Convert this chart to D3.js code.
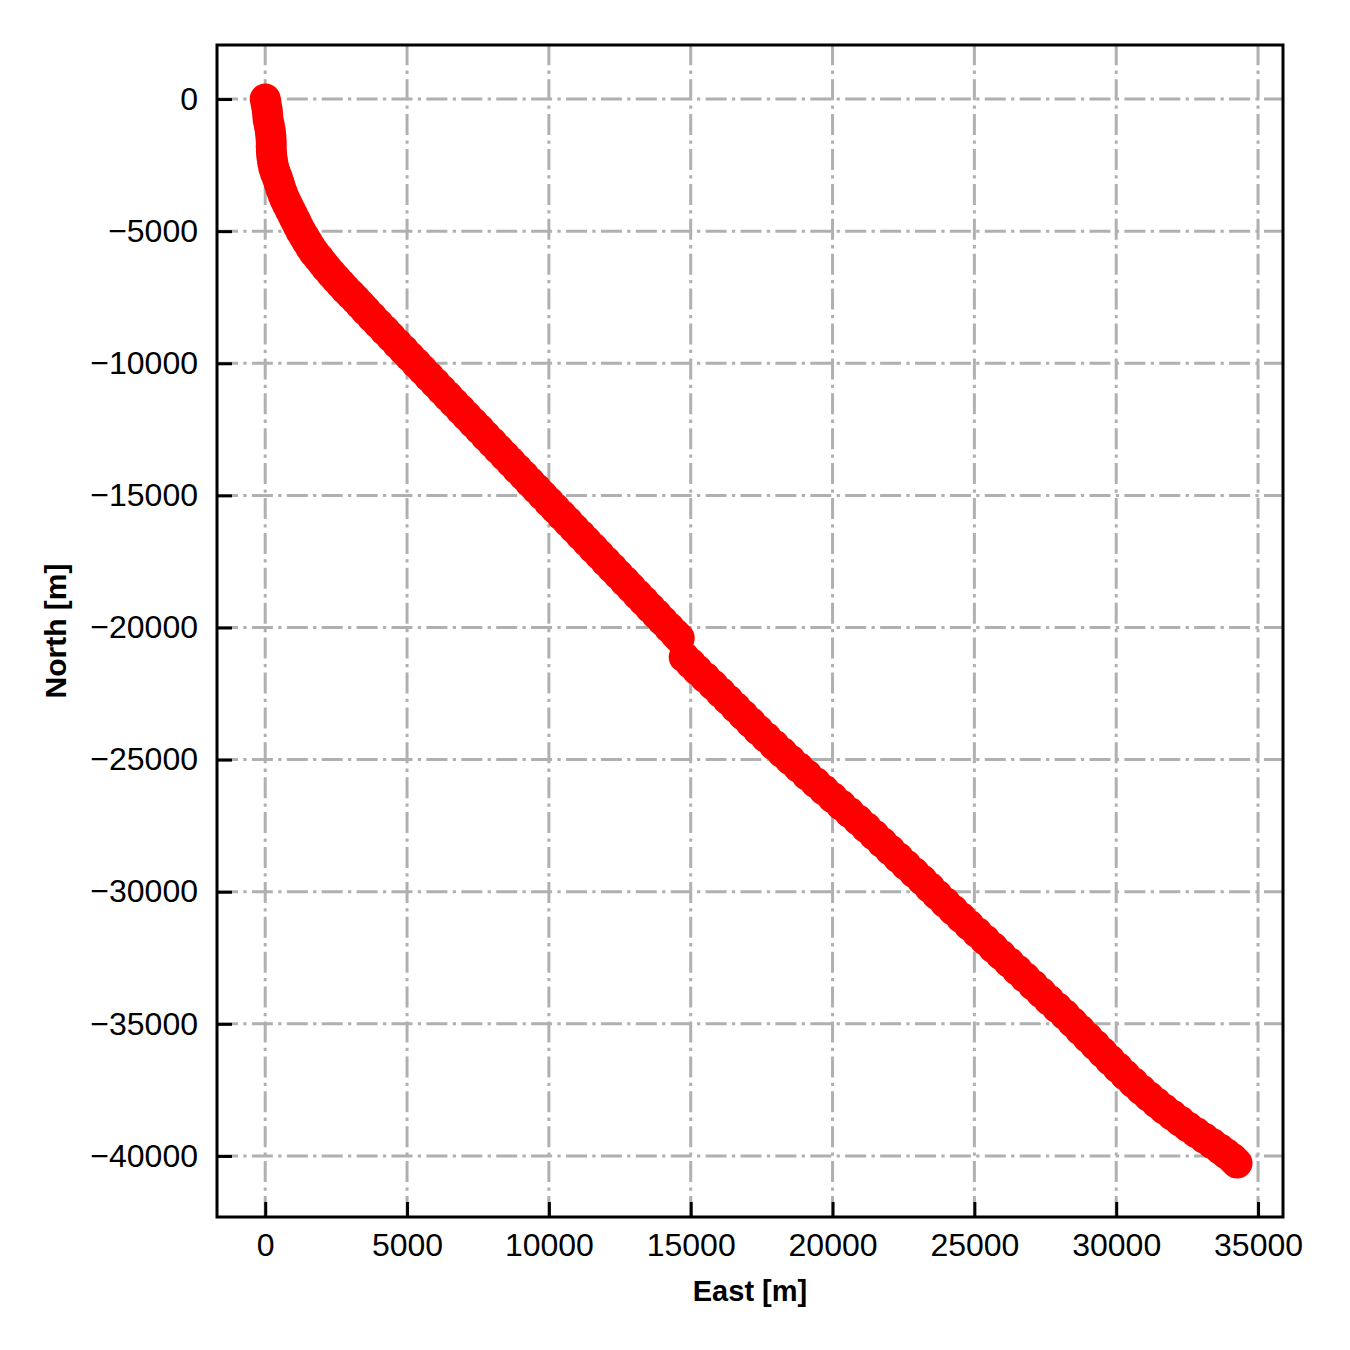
<!DOCTYPE html>
<html>
<head>
<meta charset="utf-8">
<script src="https://cdn.jsdelivr.net/npm/d3@7"></script>
<style>
  body { margin: 0; background: #fff; }
  text { font-family: "Liberation Sans", Arial, sans-serif; }
</style>
</head>
<body>
<svg id="chart" width="1350" height="1350"></svg>
<script>
// Track positions (metres), first leg down to the offset near 15 km east
const eastUpper = [0, 35, 68, 88, 107, 144, 178, 197, 211, 211, 218, 237, 264, 301, 360, 434, 496, 552, 622, 697,
    788, 881, 974, 1067, 1160, 1258, 1369, 1481, 1593, 1718, 1870, 2019, 2168, 2329, 2496, 2664, 2832, 3015, 3201,
    3374, 3546,
    3765, 3988, 4211, 4434, 4657, 4880, 5102, 5325, 5548, 5771, 5994, 6217, 6439, 6662, 6885, 7108, 7331, 7554, 7776,
    7999, 8222, 8445, 8668, 8891, 9113, 9336, 9559, 9782, 10005, 10228, 10450, 10673, 10896, 11119, 11342, 11565,
    11787, 12010, 12233, 12456, 12679, 12902, 13124, 13347, 13570, 13793, 14016, 14239, 14461, 14595];
const northUpper = [0, -200, -400, -600, -800, -1000, -1200, -1400, -1600, -1800, -2000, -2200, -2400, -2600, -2800,
    -3000, -3200, -3400, -3600, -3800, -4000, -4200, -4400, -4600, -4800, -5000, -5200, -5400, -5600, -5800, -6000,
    -6200, -6400, -6600, -6800, -7000, -7200, -7400, -7600, -7800, -8000,
    -8250, -8500, -8750, -9000, -9250, -9500, -9750, -10000, -10250, -10500, -10750, -11000, -11250, -11500, -11750,
    -12000, -12250, -12500, -12750, -13000, -13250, -13500, -13750, -14000, -14250, -14500, -14750, -15000, -15250,
    -15500, -15750, -16000, -16250, -16500, -16750, -17000, -17250, -17500, -17750, -18000, -18250, -18500, -18750,
    -19000, -19250, -19500, -19750, -20000, -20250, -20400];
// second leg after the jump
const eastLower = [14770, 15000, 15230, 15510, 15790, 16055, 16320, 16585, 16850, 17115,
    17380, 17660, 17940, 18225, 18510, 18805, 19100, 19400, 19700, 20000,
    20300, 20600, 20900, 21185, 21470, 21750, 22030, 22310, 22590, 22875,
    23160, 23425, 23690, 23970, 24250, 24530, 24810, 25095, 25380, 25660,
    25940, 26225, 26510, 26790, 27070, 27350, 27630, 27915, 28200, 28465,
    28730, 28995, 29260, 29520, 29780, 30050, 30320, 30600, 30885, 31150,
    31420, 31690, 31970, 32250, 32530, 32815, 33100, 33380, 33660, 33870,
    34080, 34170, 34260];
const northLower = [-21120, -21365, -21610, -21895, -22180, -22460, -22740, -23025, -23310, -23595,
    -23880, -24165, -24450, -24730, -25010, -25295, -25580, -25865, -26150, -26435,
    -26720, -27005, -27290, -27570, -27850, -28135, -28420, -28705, -28990, -29275,
    -29560, -29840, -30120, -30405, -30690, -30975, -31260, -31545, -31830, -32110,
    -32390, -32675, -32960, -33245, -33530, -33815, -34100, -34380, -34660, -34945,
    -35230, -35515, -35800, -36085, -36370, -36655, -36940, -37220, -37500, -37745,
    -37990, -38220, -38450, -38675, -38900, -39110, -39320, -39530, -39740, -39910,
    -40080, -40175, -40270];

const xTicks = [0, 5000, 10000, 15000, 20000, 25000, 30000, 35000];
const yTicks = [0, -5000, -10000, -15000, -20000, -25000, -30000, -35000, -40000];

// Plot area
const margin = { top: 45, right: 67, bottom: 133, left: 217 },
    width = 1350 - margin.left - margin.right,
    height = 1350 - margin.top - margin.bottom;

const svg = d3.select("#chart");
svg.append("rect").attr("width", 1350).attr("height", 1350).attr("fill", "#fff");

const g = svg.append("g")
    .attr("transform", `translate(${margin.left},${margin.top})`);

const x = d3.scaleLinear().domain([-1700, 35880]).range([0, width]);
const y = d3.scaleLinear().domain([-42310, 2045]).range([height, 0]);

const minus = d => d < 0 ? "\u2212" + Math.abs(d) : String(d);

// Grid (dash-dot, below the data)
const grid = g.append("g")
    .attr("stroke", "#b0b0b0")
    .attr("stroke-width", 3)
    .attr("stroke-dasharray", "21,5.3,3.3,5.3")
    .attr("fill", "none");
grid.selectAll(".vgrid")
    .data(xTicks)
    .enter().append("line")
    .attr("x1", d => x(d)).attr("x2", d => x(d))
    .attr("y1", height).attr("y2", 0);
grid.selectAll(".hgrid")
    .data(yTicks)
    .enter().append("line")
    .attr("x1", 0).attr("x2", width)
    .attr("y1", d => y(d)).attr("y2", d => y(d));

// Scatter points
const points = eastUpper.map((e, i) => ({ east: e, north: northUpper[i] }))
    .concat(eastLower.map((e, i) => ({ east: e, north: northLower[i] })));

g.selectAll(".pt")
    .data(points)
    .enter().append("circle")
    .attr("class", "pt")
    .attr("cx", d => x(d.east))
    .attr("cy", d => y(d.north))
    .attr("r", 15.5)
    .attr("fill", "#ff0000");

// Axes with inward ticks
const xAxis = g.append("g")
    .attr("transform", `translate(0,${height})`)
    .call(d3.axisBottom(x).tickValues(xTicks).tickFormat(minus).tickSize(-15).tickPadding(16));
const yAxis = g.append("g")
    .call(d3.axisLeft(y).tickValues(yTicks).tickFormat(minus).tickSize(-15).tickPadding(19));

[xAxis, yAxis].forEach(a => {
    a.select(".domain").remove();
    a.selectAll("line").attr("stroke", "#000").attr("stroke-width", 3);
    a.selectAll("text")
        .attr("fill", "#000")
        .style("font-size", "32px")
        .style("font-family", "'Liberation Sans', Arial, sans-serif");
});

// Frame
g.append("rect")
    .attr("width", width).attr("height", height)
    .attr("fill", "none").attr("stroke", "#000").attr("stroke-width", 3);

// Axis labels
svg.append("text")
    .attr("x", margin.left + width / 2)
    .attr("y", 1301)
    .attr("text-anchor", "middle")
    .style("font-size", "29px")
    .style("font-weight", "bold")
    .text("East [m]");

svg.append("text")
    .attr("transform", `translate(66,${margin.top + height / 2}) rotate(-90)`)
    .attr("text-anchor", "middle")
    .style("font-size", "30px")
    .style("font-weight", "bold")
    .text("North [m]");
</script>
</body>
</html>
